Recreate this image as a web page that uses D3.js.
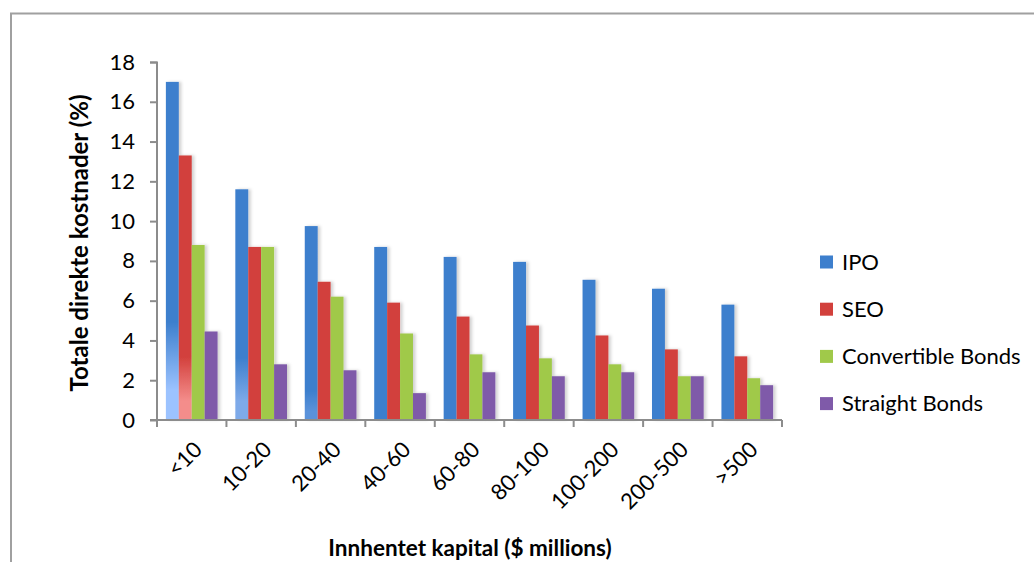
<!DOCTYPE html>
<html>
<head>
<meta charset="utf-8">
<script src="https://cdn.jsdelivr.net/npm/d3@7/dist/d3.min.js"></script>
<style>
  body { margin: 0; background: #fff; }
  svg { display: block; font-family: Lato, "Open Sans", sans-serif; }
</style>
</head>
<body>
<svg id="chart" width="1034" height="562"></svg>
<script>
// kategorier og serier
var categories = ['<10', '10-20', '20-40', '40-60', '60-80', '80-100', '100-200', '200-500', '>500']
var seriesNames = ['IPO', 'SEO', 'Convertible Bonds', 'Straight Bonds']
var ipo = [17.0, 11.6, 9.75, 8.7, 8.2, 7.95, 7.05, 6.6, 5.8]
var seo = [13.3, 8.7, 6.95, 5.9, 5.2, 4.75, 4.25, 3.55, 3.2]
var convertible = [8.8, 8.7, 6.2, 4.35, 3.3, 3.1, 2.8, 2.2, 2.1]
var straight = [4.45, 2.8, 2.5, 1.35, 2.4, 2.2, 2.4, 2.2, 1.75]
var yTicks = [0, 2, 4, 6, 8, 10, 12, 14, 16, 18]

var colors = ['#3d7fcd', '#d2403c', '#a0c94a', '#7f5aa9']
var series = [ipo, seo, convertible, straight]

var svg = d3.select('#chart')
var margin = {left: 157, top: 62, right: 252, bottom: 142}
var width = 1034 - margin.left - margin.right,
	height = 562 - margin.top - margin.bottom

// ramme
svg.append('path')
	.attr('d', 'M11,562 L11,13.5 L1034,13.5')
	.attr('fill', 'none').attr('stroke', '#a0a0a0').attr('stroke-width', 2)

var defs = svg.append('defs')
var shadow = defs.append('filter').attr('id', 'shadow').attr('x', '-20%').attr('width', '160%')
shadow.append('feDropShadow').attr('dx', 2.5).attr('dy', 0).attr('stdDeviation', 1.5)
	.attr('flood-color', '#000').attr('flood-opacity', 0.18)

// lys toning nederst paa noen av de foerste stolpene (som i originalen)
function fade(id, base, light, startPct) {
	var lg = defs.append('linearGradient').attr('id', id)
		.attr('x1', 0).attr('y1', 0).attr('x2', 0).attr('y2', 1)
	lg.append('stop').attr('offset', startPct).attr('stop-color', base)
	lg.append('stop').attr('offset', Math.min(1, startPct + (1 - startPct) * 0.7)).attr('stop-color', light)
	lg.append('stop').attr('offset', 1).attr('stop-color', light)
}
fade('g00', colors[0], '#9cc3ff', 0.71)
fade('g01', colors[1], '#f48d8b', 0.76)
fade('g10', colors[0], '#7eaae9', 0.73)
fade('g20', colors[0], '#5a92da', 0.85)
var fills = {'0-0': 'url(#g00)', '0-1': 'url(#g01)', '1-0': 'url(#g10)', '2-0': 'url(#g20)'}

var g = svg.append('g').attr('transform', 'translate(' + margin.left + ',' + margin.top + ')')

var x0 = d3.scaleBand().domain(categories).range([0, width]).paddingInner(0).paddingOuter(0)
var x1 = d3.scaleBand().domain(d3.range(4)).range([0, x0.bandwidth()]).paddingOuter(0.6875).paddingInner(0)
var y = d3.scaleLinear().domain([0, 18]).range([height, 0])

var groups = g.selectAll('.grp').data(categories).enter().append('g')
	.attr('transform', function(d) { return 'translate(' + x0(d) + ',0)' })

groups.each(function(cat, ci) {
	d3.select(this).selectAll('rect').data(series.map(function(s, si) { return {si: si, v: s[ci]} }))
		.enter().append('rect')
		.attr('x', function(d) { return x1(d.si) })
		.attr('width', x1.bandwidth())
		.attr('y', function(d) { return y(d.v) })
		.attr('height', function(d) { return height - y(d.v) })
		.attr('fill', function(d) { return fills[ci + '-' + d.si] || colors[d.si] })
		.attr('filter', 'url(#shadow)')
})

// y-akse
var yAxis = g.append('g').call(d3.axisLeft(y).tickValues(yTicks).tickSize(7).tickPadding(15))
yAxis.select('.domain').attr('stroke', '#8c8c8c').attr('stroke-width', 2).attr('d', 'M-7,0.5H0V' + height + 'H-7')
yAxis.selectAll('.tick line').attr('stroke', '#8c8c8c').attr('stroke-width', 2)
yAxis.selectAll('text').attr('font-size', 22).attr('fill', '#000').attr('font-family', 'Lato')

// x-akse
var xa = g.append('g').attr('transform', 'translate(0,' + height + ')')
xa.append('line').attr('x1', 0).attr('x2', width).attr('stroke', '#8c8c8c').attr('stroke-width', 2)
xa.selectAll('.xt').data(d3.range(categories.length + 1)).enter().append('line')
	.attr('x1', function(i) { return i * x0.step() }).attr('x2', function(i) { return i * x0.step() })
	.attr('y1', 0).attr('y2', 7).attr('stroke', '#8c8c8c').attr('stroke-width', 2)
xa.selectAll('.xl').data(categories).enter().append('text')
	.attr('transform', function(d) {
		return 'translate(' + (x0(d) + x0.bandwidth() / 2 + 1) + ',20) rotate(-45)'
	})
	.attr('text-anchor', 'end').attr('dy', '0.7em')
	.attr('font-size', 22).attr('fill', '#000')
	.text(function(d) { return d })

// aksetitler
svg.append('text').attr('transform', 'translate(88,243) rotate(-90)')
	.attr('text-anchor', 'middle').attr('font-size', 24).attr('font-weight', 'bold')
	.text('Totale direkte kostnader (%)')
svg.append('text').attr('x', 470).attr('y', 556)
	.attr('text-anchor', 'middle').attr('font-size', 22.5).attr('font-weight', 'bold')
	.text('Innhentet kapital ($ millions)')

// legende
var legend = svg.append('g').attr('transform', 'translate(820,262)')
var li = legend.selectAll('g').data(seriesNames).enter().append('g')
	.attr('transform', function(d, i) { return 'translate(0,' + (i * 47.2) + ')' })
li.append('rect').attr('x', 0).attr('y', -6.5).attr('width', 13).attr('height', 13)
	.attr('fill', function(d, i) { return colors[i] })
li.append('text').attr('x', 22).attr('dy', '0.35em').attr('font-size', 22).text(function(d) { return d })
</script>
</body>
</html>
